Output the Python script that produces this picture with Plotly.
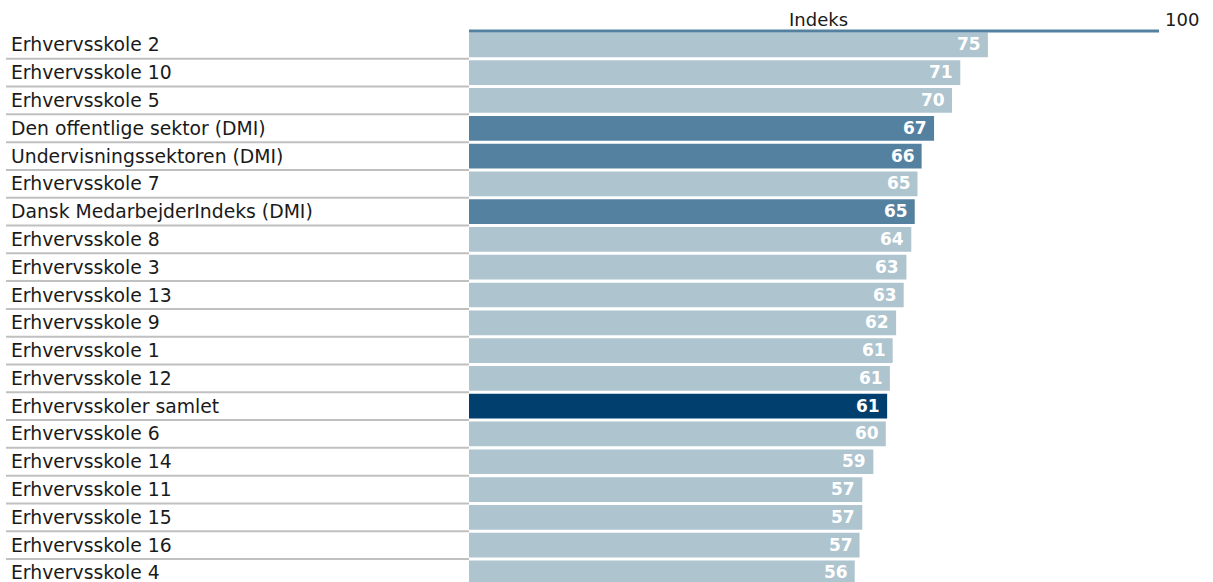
import plotly.graph_objects as go

# Index scores per unit (top to bottom)
categories = [
    "Erhvervsskole 2",
    "Erhvervsskole 10",
    "Erhvervsskole 5",
    "Den offentlige sektor (DMI)",
    "Undervisningssektoren (DMI)",
    "Erhvervsskole 7",
    "Dansk MedarbejderIndeks (DMI)",
    "Erhvervsskole 8",
    "Erhvervsskole 3",
    "Erhvervsskole 13",
    "Erhvervsskole 9",
    "Erhvervsskole 1",
    "Erhvervsskole 12",
    "Erhvervsskoler samlet",
    "Erhvervsskole 6",
    "Erhvervsskole 14",
    "Erhvervsskole 11",
    "Erhvervsskole 15",
    "Erhvervsskole 16",
    "Erhvervsskole 4",
]
values = [75.2, 71.2, 70.0, 67.4, 65.6, 65.0, 64.6, 64.1, 63.4, 63.0,
          61.9, 61.4, 61.0, 60.6, 60.4, 58.6, 57.0, 57.0, 56.6, 55.9]
groups = ["skole", "skole", "skole", "dmi", "dmi", "skole", "dmi", "skole",
          "skole", "skole", "skole", "skole", "skole", "samlet", "skole",
          "skole", "skole", "skole", "skole", "skole"]

axis_max = 100
axis_label = "Indeks"

LIGHT = "#aec4cf"
MEDIUM = "#5581a0"
DARK = "#013f6f"
SEP = "#c0c0c0"
color_map = {"skole": LIGHT, "dmi": MEDIUM, "samlet": DARK}

W, H = 1213, 582
L, R, T, B = 469, 54, 31, 0
plot_w = W - L - R
plot_h = H - T - B
pitch = 27.79
n_visible = plot_h / pitch

pos = list(range(len(categories)))


def fmt(v):
    # half-up rounding for the value labels
    return str(int(v + 0.5))


fig = go.Figure(go.Bar(
    x=values,
    y=pos,
    orientation="h",
    marker=dict(color=[color_map[g] for g in groups], line=dict(width=0)),
    width=0.89,
    hoverinfo="skip",
))

annotations = []
shapes = []
label_x = (9 - L) / plot_w
sep_x0 = (6 - L) / plot_w
for i, (cat, v) in enumerate(zip(categories, values)):
    annotations.append(dict(
        x=label_x, xref="paper", y=i, yref="y",
        text=cat, showarrow=False, xanchor="left", yanchor="middle",
        font=dict(family="DejaVu Sans", size=18.8, color="#1a1a1a"),
    ))
    annotations.append(dict(
        x=v, xref="x", y=i, yref="y",
        text=fmt(v), showarrow=False, xanchor="right", yanchor="middle",
        xshift=-5, yshift=0.5,
        font=dict(family="DejaVu Sans", size=17, color="white", weight="bold"),
    ))
    if i < len(categories) - 1:
        shapes.append(dict(
            type="line", xref="paper", yref="y",
            x0=sep_x0, x1=0, y0=i + 0.5, y1=i + 0.5,
            line=dict(color=SEP, width=2),
        ))

# axis header line with label and maximum
header_y = 1 + (T - 19) / plot_h
shapes.append(dict(
    type="line", xref="x", yref="paper",
    x0=0, x1=axis_max + 0.4, y0=1.0, y1=1.0,
    line=dict(color=MEDIUM, width=3),
))
annotations.append(dict(
    x=(818 - L) / plot_w, xref="paper", y=header_y, yref="paper",
    yanchor="middle", xanchor="center", text=axis_label, showarrow=False,
    font=dict(family="DejaVu Sans", size=18, color="#1a1a1a"),
))
annotations.append(dict(
    x=(1163 - L) / plot_w, xref="paper", y=header_y,
    yref="paper", yanchor="middle", xanchor="left",
    text=str(axis_max), showarrow=False,
    font=dict(family="DejaVu Sans", size=18, color="#1a1a1a"),
))

fig.update_layout(
    width=W, height=H,
    margin=dict(l=L, r=R, t=T, b=B, pad=0),
    paper_bgcolor="white", plot_bgcolor="white",
    showlegend=False,
    xaxis=dict(range=[0, axis_max], visible=False, fixedrange=True),
    yaxis=dict(range=[-0.5 + n_visible, -0.5], visible=False, fixedrange=True),
    annotations=annotations,
    shapes=shapes,
)

fig.write_html("out.html")
